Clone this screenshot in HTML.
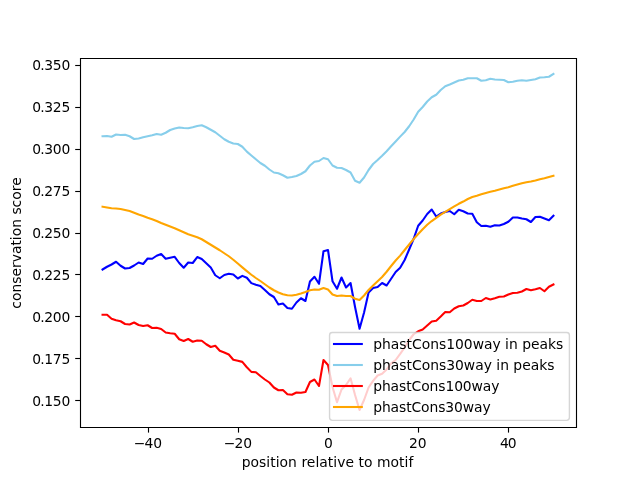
<!DOCTYPE html>
<html><head><meta charset="utf-8"><title>conservation score</title>
<style>html,body{margin:0;padding:0;background:#fff;overflow:hidden}svg{display:block}</style>
</head><body>
<svg width="640" height="480" viewBox="0 0 640 480">
<rect width="640" height="480" fill="#fff"/>
<defs><clipPath id="ax"><rect x="80" y="57.6" width="496" height="369.6"/></clipPath></defs>
<g clip-path="url(#ax)" fill="none" stroke-width="2.083" stroke-linejoin="round" stroke-linecap="square">
<polyline stroke="#0000ff" points="102.55,269.50 107.05,266.75 111.56,264.50 116.07,261.75 120.58,265.75 125.09,268.50 129.60,268.00 134.11,265.50 138.62,262.50 143.13,264.00 147.64,258.50 152.15,258.75 156.65,255.75 161.16,254.00 165.67,258.75 170.18,257.75 174.69,256.80 179.20,263.00 183.71,267.75 188.22,262.50 192.73,263.00 197.24,257.05 201.75,259.00 206.25,263.25 210.76,267.50 215.27,275.25 219.78,278.25 224.29,275.00 228.80,273.75 233.31,274.50 237.82,278.50 242.33,275.88 246.84,277.75 251.35,283.12 255.85,284.75 260.36,286.00 264.87,290.00 269.38,294.25 273.89,297.00 278.40,304.50 282.91,303.50 287.42,308.00 291.93,308.75 296.44,302.50 300.95,298.25 305.45,301.00 309.96,281.50 314.47,276.75 318.98,283.75 323.49,251.25 328.00,250.00 332.51,281.25 337.02,288.75 341.53,277.50 346.04,287.50 350.55,283.00 355.05,307.00 359.56,328.75 364.07,312.50 368.58,292.50 373.09,288.00 377.60,287.00 382.11,283.00 386.62,285.50 391.13,278.75 395.64,272.00 400.15,267.75 404.65,260.00 409.16,249.50 413.67,238.75 418.18,225.75 422.69,220.50 427.20,214.00 431.71,209.50 436.22,216.50 440.73,213.50 445.24,212.00 449.75,211.00 454.25,214.25 458.76,209.75 463.27,211.25 467.78,213.50 472.29,213.75 476.80,222.25 481.31,226.00 485.82,225.75 490.33,226.75 494.84,225.25 499.35,225.50 503.85,224.00 508.36,221.75 512.87,217.50 517.38,217.50 521.89,218.50 526.40,219.25 530.91,222.00 535.42,217.00 539.93,216.75 544.44,218.50 548.95,220.25 553.45,215.75"/>
<polyline stroke="#87ceeb" points="102.55,136.25 107.05,136.00 111.56,136.75 116.07,134.50 120.58,135.00 125.09,134.75 129.60,136.25 134.11,139.00 138.62,138.50 143.13,137.25 147.64,136.25 152.15,135.25 156.65,134.00 161.16,134.75 165.67,132.75 170.18,130.00 174.69,128.50 179.20,127.50 183.71,128.00 188.22,128.25 192.73,127.25 197.24,126.00 201.75,125.25 206.25,127.25 210.76,129.75 215.27,132.25 219.78,135.75 224.29,139.25 228.80,141.75 233.31,143.50 237.82,144.00 242.33,146.75 246.84,151.62 251.35,155.50 255.85,159.25 260.36,163.00 264.87,165.75 269.38,169.50 273.89,172.50 278.40,173.25 282.91,175.25 287.42,177.75 291.93,177.00 296.44,176.00 300.95,174.00 305.45,171.25 309.96,165.50 314.47,161.75 318.98,161.00 323.49,158.00 328.00,159.25 332.51,165.50 337.02,167.75 341.53,168.00 346.04,170.00 350.55,172.50 355.05,180.75 359.56,182.75 364.07,177.50 368.58,170.00 373.09,164.00 377.60,160.00 382.11,155.75 386.62,151.25 391.13,146.25 395.64,141.50 400.15,136.62 404.65,132.00 409.16,126.25 413.67,119.50 418.18,111.75 422.69,107.00 427.20,101.50 431.71,97.25 436.22,94.75 440.73,90.00 445.24,86.25 449.75,84.50 454.25,82.50 458.76,80.50 463.27,79.75 467.78,78.25 472.29,78.25 476.80,78.25 481.31,80.75 485.82,80.25 490.33,78.75 494.84,79.50 499.35,79.75 503.85,80.00 508.36,82.25 512.87,81.75 517.38,80.75 521.89,80.25 526.40,80.75 530.91,80.00 535.42,79.25 539.93,77.50 544.44,77.25 548.95,76.75 553.45,74.00"/>
<polyline stroke="#ff0000" points="102.55,314.80 107.05,314.80 111.56,318.75 116.07,320.25 120.58,321.25 125.09,324.00 129.60,324.50 134.11,322.50 138.62,325.00 143.13,326.00 147.64,325.25 152.15,328.00 156.65,327.75 161.16,329.00 165.67,332.50 170.18,333.25 174.69,333.75 179.20,339.25 183.71,341.00 188.22,339.00 192.73,341.75 197.24,340.50 201.75,340.75 206.25,344.25 210.76,347.00 215.27,345.75 219.78,350.75 224.29,352.50 228.80,354.50 233.31,359.75 237.82,360.75 242.33,361.88 246.84,367.25 251.35,371.88 255.85,372.25 260.36,376.00 264.87,379.50 269.38,382.50 273.89,387.50 278.40,390.25 282.91,390.00 287.42,394.25 291.93,394.75 296.44,392.50 300.95,392.75 305.45,392.00 309.96,382.00 314.47,379.50 318.98,386.00 323.49,360.00 328.00,365.00 332.51,387.00 337.02,402.20 341.53,389.50 346.04,385.00 350.55,378.30 355.05,395.00 359.56,410.00 364.07,400.00 368.58,387.50 373.09,380.80 377.60,375.50 382.11,373.75 386.62,369.50 391.13,363.30 395.64,360.00 400.15,353.90 404.65,347.50 409.16,340.00 413.67,334.25 418.18,331.25 422.69,329.50 427.20,325.50 431.71,321.50 436.22,320.75 440.73,316.50 445.24,312.00 449.75,312.25 454.25,308.50 458.76,306.25 463.27,305.50 467.78,303.00 472.29,299.75 476.80,301.00 481.31,301.00 485.82,298.00 490.33,299.50 494.84,298.25 499.35,296.75 503.85,296.50 508.36,294.50 512.87,293.00 517.38,292.75 521.89,291.50 526.40,289.00 530.91,290.25 535.42,289.25 539.93,288.00 544.44,291.25 548.95,286.75 553.45,284.50"/>
<polyline stroke="#ffa500" points="102.55,206.75 107.05,207.50 111.56,208.25 116.07,208.50 120.58,209.00 125.09,210.00 129.60,211.00 134.11,212.75 138.62,214.50 143.13,216.00 147.64,217.75 152.15,219.25 156.65,221.00 161.16,223.00 165.67,224.75 170.18,226.50 174.69,228.25 179.20,230.25 183.71,232.25 188.22,234.25 192.73,235.75 197.24,237.25 201.75,239.25 206.25,242.00 210.76,244.75 215.27,247.50 219.78,250.25 224.29,253.25 228.80,256.25 233.31,259.75 237.82,263.50 242.33,267.38 246.84,271.12 251.35,274.75 255.85,278.00 260.36,281.00 264.87,284.25 269.38,287.50 273.89,290.25 278.40,292.50 282.91,294.25 287.42,295.25 291.93,295.50 296.44,294.75 300.95,293.50 305.45,292.00 309.96,290.25 314.47,289.50 318.98,289.75 323.49,288.00 328.00,289.50 332.51,294.50 337.02,296.00 341.53,295.50 346.04,296.00 350.55,296.00 355.05,298.75 359.56,300.00 364.07,295.50 368.58,290.00 373.09,285.50 377.60,281.25 382.11,277.00 386.62,271.75 391.13,266.00 395.64,260.50 400.15,255.62 404.65,250.00 409.16,244.50 413.67,239.00 418.18,234.05 422.69,229.30 427.20,224.80 431.71,221.05 436.22,217.80 440.73,214.55 445.24,211.80 449.75,209.05 454.25,206.30 458.76,203.80 463.27,201.55 467.78,199.00 472.29,197.00 476.80,195.75 481.31,194.25 485.82,193.00 490.33,191.75 494.84,190.75 499.35,189.50 503.85,188.25 508.36,187.25 512.87,185.75 517.38,184.50 521.89,183.25 526.40,182.25 530.91,181.50 535.42,180.50 539.93,179.25 544.44,178.25 548.95,177.00 553.45,175.75"/>
</g>
<g stroke="#000" stroke-width="1.111" fill="none">
<path d="M148.5 427.5V432.6"/>
<path d="M238.5 427.5V432.6"/>
<path d="M328.5 427.5V432.6"/>
<path d="M418.5 427.5V432.6"/>
<path d="M508.5 427.5V432.6"/>
<path d="M75.2 400.5H80.5"/>
<path d="M75.2 358.5H80.5"/>
<path d="M75.2 316.5H80.5"/>
<path d="M75.2 274.5H80.5"/>
<path d="M75.2 233.5H80.5"/>
<path d="M75.2 191.5H80.5"/>
<path d="M75.2 149.5H80.5"/>
<path d="M75.2 107.5H80.5"/>
<path d="M75.2 65.5H80.5"/>
<path d="M80.5 58.5H576.5V427.5H80.5Z" stroke-linejoin="miter"/>
</g>
<g style="font-family:'DejaVu Sans','Liberation Sans',sans-serif;font-size:13.889px;fill:#000">
<text x="133.75 144.48 153.37" y="448.00">−40</text>
<text x="223.75 234.48 243.37" y="448.00">−20</text>
<text x="323.93" y="448.00">0</text>
<text x="409.06 417.70" y="448.00">20</text>
<text x="499.96 507.70" y="448.00">40</text>
<text x="32.14 40.13 44.34 52.83 61.41" y="406.00">0.150</text>
<text x="32.14 40.13 44.34 52.83 61.41" y="364.00">0.175</text>
<text x="32.14 40.13 44.34 52.83 61.41" y="322.00">0.200</text>
<text x="32.14 40.13 44.34 52.83 61.41" y="280.00">0.225</text>
<text x="32.14 40.13 44.34 52.83 61.41" y="238.00">0.250</text>
<text x="32.14 40.13 44.34 52.83 61.41" y="196.00">0.275</text>
<text x="32.14 40.13 44.34 52.83 61.41" y="154.00">0.300</text>
<text x="32.14 40.13 44.34 52.83 61.41" y="112.00">0.325</text>
<text x="32.14 40.13 44.34 52.83 61.41" y="70.00">0.350</text>
<text x="327.50" y="466.70" text-anchor="middle" textLength="171.60" lengthAdjust="spacing">position relative to motif</text>
<text x="21.00" y="243.00" text-anchor="middle" transform="rotate(-90 21.00 243.00)">conservation score</text>
</g>
<path d="M332.33 420.4H566.62Q569.4 420.4 569.4 417.62V335.28Q569.4 332.5 566.62 332.5H332.33Q329.55 332.5 329.55 335.28V417.62Q329.55 420.4 332.33 420.4Z" fill="#fff" fill-opacity="0.8" stroke="#ccc" stroke-opacity="0.8" stroke-width="1.389"/>
<g stroke-width="2.083" stroke-linecap="square" fill="none">
<path stroke="#0000ff" d="M334 344H361.8"/>
<path stroke="#87ceeb" d="M334 365H361.8"/>
<path stroke="#ff0000" d="M334 386H361.8"/>
<path stroke="#ffa500" d="M334 407H361.8"/>
</g>
<g style="font-family:'DejaVu Sans','Liberation Sans',sans-serif;font-size:13.889px;fill:#000">
<text x="373.20" y="348.80" text-anchor="start">phastCons100way in peaks</text>
<text x="373.20" y="369.80" text-anchor="start">phastCons30way in peaks</text>
<text x="373.20" y="390.80" text-anchor="start" textLength="126.30" lengthAdjust="spacing">phastCons100way</text>
<text x="373.20" y="411.80" text-anchor="start" textLength="117.50" lengthAdjust="spacing">phastCons30way</text>
</g>
</svg>
</body></html>
